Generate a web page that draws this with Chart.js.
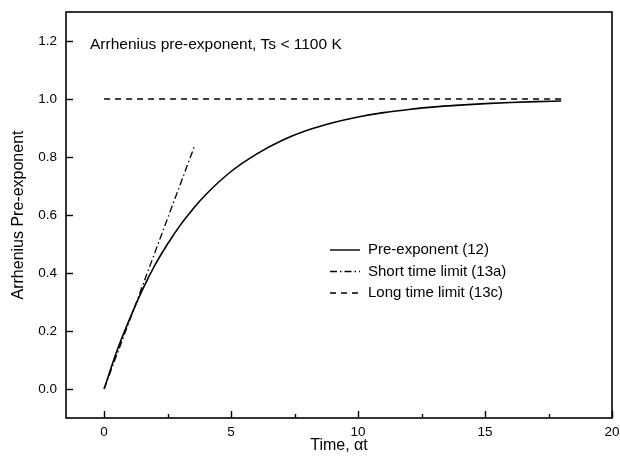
<!DOCTYPE html>
<html>
<head>
<meta charset="utf-8">
<script src="https://cdn.jsdelivr.net/npm/chart.js@4/dist/chart.umd.min.js"></script>
<style>
  html, body { margin: 0; padding: 0; background: #fff; }
  #wrap { width: 620px; height: 465px; }
</style>
</head>
<body>
<div id="wrap"><canvas id="myChart" width="620" height="465"></canvas></div>
<script>
// ---- data ----
const timeAt = [0, 0.5, 1, 1.5, 2, 2.5, 3, 3.5, 4, 5, 6, 7, 8, 9, 10, 11, 12, 13, 14, 15, 16, 17, 18];
const preExponent = [0, 0.13, 0.24, 0.34, 0.427, 0.50, 0.565, 0.621, 0.67, 0.75, 0.81, 0.857, 0.892, 0.918, 0.938, 0.953, 0.964, 0.973, 0.979, 0.984, 0.988, 0.991, 0.993];
const shortTime = [0, 3.57];
const shortLimit = [0, 0.84];
const longTime = [0, 18];
const longLimit = [1, 1];
const xTickValues = [0, 2.5, 5, 7.5, 10, 12.5, 15, 17.5, 20];
const yTickValues = [0, 0.2, 0.4, 0.6, 0.8, 1.0, 1.2];
const seriesNames = ['Pre-exponent (12)', 'Short time limit (13a)', 'Long time limit (13c)'];
const noteText = 'Arrhenius pre-exponent, Ts < 1100 K';

const FONT = "'Liberation Sans', Arial, sans-serif";

function toPoints(xs, ys) {
    return xs.map((x, i) => ({ x: x, y: ys[i] }));
}

const dashShort = [7, 3, 1.5, 3];
const dashLong = [6, 5];

function noScalePadding(scale) {
    scale.paddingLeft = 0;
    scale.paddingRight = 0;
    scale.paddingTop = 0;
    scale.paddingBottom = 0;
}

// frame, inward ticks, legend and the note
const framePlugin = {
    id: 'frame',
    afterDraw(chart) {
        const ctx = chart.ctx;
        const a = chart.chartArea;
        const xs = chart.scales.x;
        const ys = chart.scales.y;
        ctx.save();
        ctx.strokeStyle = '#000';
        ctx.lineWidth = 1.6;
        ctx.strokeRect(a.left, a.top, a.right - a.left, a.bottom - a.top);

        ctx.lineWidth = 1.4;
        xTickValues.forEach(v => {
            const px = Math.round(xs.getPixelForValue(v)) + 0.5;
            const len = (v % 5 === 0) ? 7 : 4;
            ctx.beginPath();
            ctx.moveTo(px, a.bottom);
            ctx.lineTo(px, a.bottom - len);
            ctx.stroke();
        });
        yTickValues.forEach(v => {
            const py = Math.round(ys.getPixelForValue(v)) + 0.5;
            ctx.beginPath();
            ctx.moveTo(a.left, py);
            ctx.lineTo(a.left + 7, py);
            ctx.stroke();
        });

        // legend
        const dashes = [[], dashShort, dashLong];
        ctx.font = '15px ' + FONT;
        ctx.fillStyle = '#000';
        ctx.textBaseline = 'middle';
        seriesNames.forEach((name, i) => {
            const y = 250 + i * 21.5;
            ctx.setLineDash(dashes[i]);
            ctx.lineWidth = 1.4;
            ctx.beginPath();
            ctx.moveTo(330, y);
            ctx.lineTo(360, y);
            ctx.stroke();
            ctx.setLineDash([]);
            ctx.fillText(name, 368, y);
        });

        ctx.font = '15.5px ' + FONT;
        ctx.fillText(noteText, 90, 45);
        ctx.restore();
    }
};

const ctx = document.getElementById('myChart');
const myChart = new Chart(ctx, {
    type: 'scatter',
    data: {
        datasets: [{
            label: seriesNames[0],
            data: toPoints(timeAt, preExponent),
            showLine: true,
            borderColor: '#000',
            borderWidth: 1.6,
            pointRadius: 0,
            cubicInterpolationMode: 'monotone',
        }, {
            label: seriesNames[1],
            data: toPoints(shortTime, shortLimit),
            showLine: true,
            borderColor: '#000',
            borderWidth: 1.3,
            borderDash: dashShort,
            pointRadius: 0,
        }, {
            label: seriesNames[2],
            data: toPoints(longTime, longLimit),
            showLine: true,
            borderColor: '#000',
            borderWidth: 1.3,
            borderDash: dashLong,
            pointRadius: 0,
        }]
    },
    options: {
        responsive: false,
        animation: false,
        layout: { padding: { left: 0, top: 12, right: 8, bottom: 0 } },
        plugins: { legend: { display: false }, tooltip: { enabled: false } },
        scales: {
            x: {
                type: 'linear',
                min: -1.5,
                max: 20,
                afterBuildTicks: scale => { scale.ticks = xTickValues.map(v => ({ value: v })); },
                afterFit: scale => { scale.height = 47; noScalePadding(scale); },
                grid: { display: false, drawTicks: false },
                border: { display: false },
                ticks: {
                    color: '#000',
                    font: { family: FONT, size: 13.5 },
                    padding: 6,
                    maxRotation: 0,
                    autoSkip: false,
                    callback: v => (v % 5 === 0 ? String(v) : '')
                },
                title: {
                    display: true,
                    text: 'Time, αt',
                    color: '#000',
                    font: { family: FONT, size: 16 },
                    padding: { top: 0, bottom: 10 }
                }
            },
            y: {
                type: 'linear',
                min: -0.1,
                max: 1.3,
                afterBuildTicks: scale => { scale.ticks = yTickValues.map(v => ({ value: v })); },
                afterFit: scale => { scale.width = 66; noScalePadding(scale); },
                grid: { display: false, drawTicks: false },
                border: { display: false },
                ticks: {
                    color: '#000',
                    font: { family: FONT, size: 13.5 },
                    padding: 9,
                    autoSkip: false,
                    callback: v => v.toFixed(1)
                },
                title: {
                    display: true,
                    text: 'Arrhenius Pre-exponent',
                    color: '#000',
                    font: { family: FONT, size: 16 },
                    padding: { top: 9, bottom: 0 }
                }
            }
        }
    },
    plugins: [framePlugin]
});
</script>
</body>
</html>
